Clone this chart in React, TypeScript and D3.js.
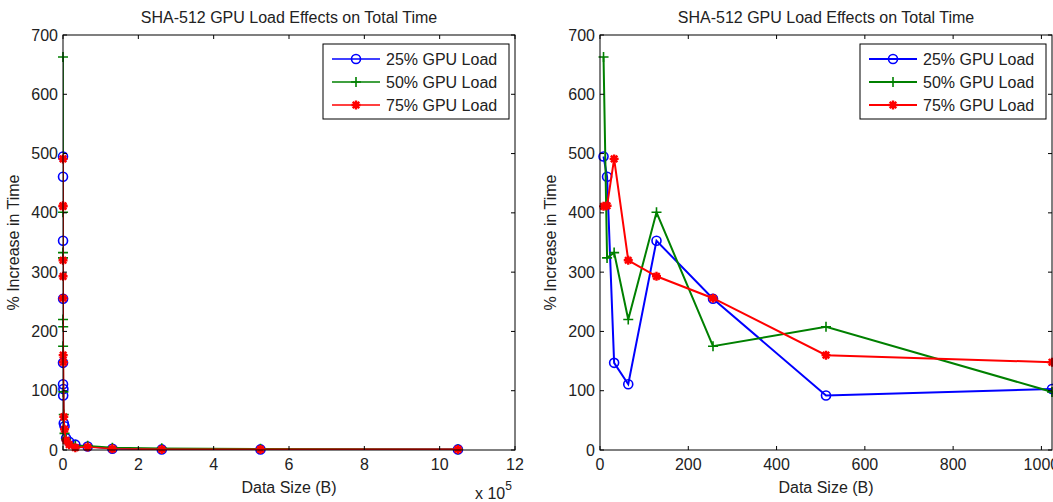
import * as d3 from "d3";
import React from "react";

// data sizes in bytes and % increase in total time per GPU load
const sizes = [8, 16, 32, 64, 128, 256, 512, 1024, 2048, 4096, 8192, 16384, 32768, 65536, 131072, 262144, 524288, 1048576];
const load25 = [495, 461, 147, 111, 353, 255, 92, 103, 45, 40, 20, 14, 9, 6, 2, 1, 1, 1];
const load50 = [663, 324, 333, 220, 401, 175, 208, 98, 60, 28, 18, 11, 7, 7, 4, 3, 2, 1];
const load75 = [411, 412, 491, 320, 293, 256, 160, 148, 56, 35, 16, 9, 4, 5, 2, 1, 1, 1];

const seriesNames = ["25% GPU Load", "50% GPU Load", "75% GPU Load"];
const seriesColors = ["#0000ff", "#008000", "#ff0000"];
const seriesMarkers = ["circle", "plus", "star"];
const yTicks = [0, 100, 200, 300, 400, 500, 600, 700];
const leftXTicks = [0, 2, 4, 6, 8, 10, 12];
const rightXTicks = [0, 200, 400, 600, 800, 1000];

const title = "SHA-512 GPU Load Effects on Total Time";
const font = "Liberation Sans, Arial, sans-serif";
const fs = 16;

const Marker = ({ type, x, y, color }) => {
  if (type === "circle")
    return <circle cx={x} cy={y} r={4.5} fill="none" stroke={color} strokeWidth={1.6} />;
  if (type === "plus")
    return (
      <path d={`M${x - 5},${y}H${x + 5}M${x},${y - 5}V${y + 5}`} stroke={color} strokeWidth={1.6} />
    );
  const r = 4.5;
  const s = r * 0.72;
  return (
    <path
      d={`M${x - r},${y}H${x + r}M${x},${y - r}V${y + r}M${x - s},${y - s}L${x + s},${y + s}M${x - s},${y + s}L${x + s},${y - s}`}
      stroke={color}
      strokeWidth={2.4}
    />
  );
};

function Panel({ id, left, xMax, xTicks, xScaleFactor, lineW }) {
  const top = 35, bottom = 450, right = left + 452;
  const x = d3.scaleLinear().domain([0, xMax]).range([left, right]);
  const y = d3.scaleLinear().domain([0, 700]).range([bottom, top]);
  const series = [load25, load50, load75];
  const line = d3
    .line<number>()
    .x((d, i) => x(sizes[i] / xScaleFactor))
    .y((d) => y(d));
  const cx = (left + right) / 2;
  const lx = right - 192;
  return (
    <g fontFamily={font} fill="#000">
      <defs>
        <clipPath id={id}>
          <rect x={left} y={top} width={right - left} height={bottom - top} />
        </clipPath>
      </defs>
      <rect x={left} y={top} width={right - left} height={bottom - top} fill="#fff" />
      {series.map((s, k) => (
        <g key={k}>
          <path d={line(s)} fill="none" stroke={seriesColors[k]} strokeWidth={lineW} clipPath={`url(#${id})`} />
          {s.map((v, i) =>
            sizes[i] / xScaleFactor <= xMax ? (
              <Marker key={i} type={seriesMarkers[k]} x={x(sizes[i] / xScaleFactor)} y={y(v)} color={seriesColors[k]} />
            ) : null
          )}
        </g>
      ))}
      <rect x={left} y={top} width={right - left} height={bottom - top} fill="none" stroke="#000" strokeWidth={1} />
      {yTicks.map((t) => (
        <g key={t}>
          <line x1={left} x2={left + 4} y1={y(t)} y2={y(t)} stroke="#000" />
          <line x1={right - 4} x2={right} y1={y(t)} y2={y(t)} stroke="#000" />
          <text x={left - 5} y={y(t)} dy="0.35em" textAnchor="end" fontSize={fs} fill="#222">
            {t}
          </text>
        </g>
      ))}
      {xTicks.map((t) => (
        <g key={t}>
          <line x1={x(t)} x2={x(t)} y1={bottom} y2={bottom - 4} stroke="#000" />
          <line x1={x(t)} x2={x(t)} y1={top} y2={top + 4} stroke="#000" />
          <text x={x(t)} y={bottom + 20} textAnchor="middle" fontSize={fs} fill="#222">
            {t}
          </text>
        </g>
      ))}
      <text x={cx} y={23} textAnchor="middle" fontSize={fs} fill="#222">
        {title}
      </text>
      <text x={cx} y={493} textAnchor="middle" fontSize={fs} fill="#222">
        Data Size (B)
      </text>
      <text
        transform={`translate(${left - 44},${(top + bottom) / 2}) rotate(-90)`}
        textAnchor="middle"
        fontSize={fs}
        fill="#222"
      >
        % Increase in Time
      </text>
      {xScaleFactor > 1 && (
        <text x={right - 40} y={499} fontSize={fs} fill="#222">
          x 10<tspan dy={-9} fontSize={12}>5</tspan>
        </text>
      )}
      <g>
        <rect x={lx} y={44} width={186} height={75} fill="#fff" stroke="#000" />
        {seriesNames.map((n, k) => {
          const ly = 59 + k * 23;
          return (
            <g key={n}>
              <line x1={lx + 9} x2={lx + 57} y1={ly} y2={ly} stroke={seriesColors[k]} strokeWidth={lineW} />
              <Marker type={seriesMarkers[k]} x={lx + 33} y={ly} color={seriesColors[k]} />
              <text x={lx + 63} y={ly} dy="0.35em" fontSize={fs} fill="#222">
                {n}
              </text>
            </g>
          );
        })}
      </g>
    </g>
  );
}

export default function App() {
  return (
    <svg width={1053} height={502} style={{ position: "absolute", left: 0, top: 0 }}>
      <rect width={1053} height={502} fill="#fff" />
      <Panel id="clipL" left={63} xMax={12} xTicks={leftXTicks} xScaleFactor={1e5} lineW={1.6} />
      <Panel id="clipR" left={600} xMax={1024} xTicks={rightXTicks} xScaleFactor={1} lineW={2} />
    </svg>
  );
}
